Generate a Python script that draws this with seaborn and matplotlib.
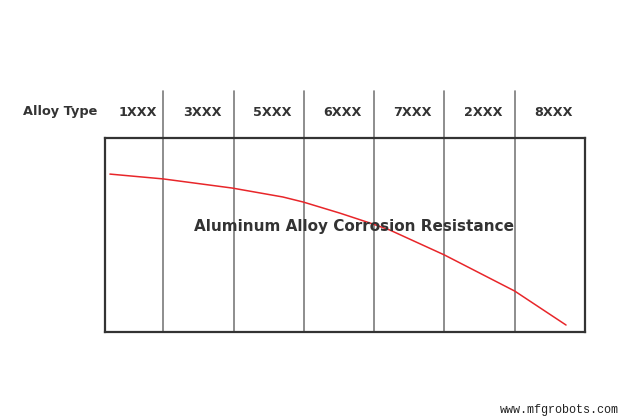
import matplotlib
matplotlib.use("Agg")
import matplotlib.pyplot as plt
import seaborn as sns
import pandas as pd

# ---- data ----
alloy_types = ["1XXX", "3XXX", "5XXX", "6XXX", "7XXX", "2XXX", "8XXX"]
curve_x = [0.24, 1.0, 1.98, 2.70, 2.99, 3.51, 3.98, 4.22, 5.0, 6.0, 6.73]
curve_resistance = [81.4, 78.9, 74.2, 69.6, 67.0, 61.3, 55.7, 52.6, 39.7, 21.1, 3.6]
row_label = "Alloy Type"
title = "Aluminum Alloy Corrosion Resistance"
watermark = "www.mfgrobots.com"

sns.set_theme(style="white")
plt.rcParams["font.family"] = ["DejaVu Sans"]

fig = plt.figure(figsize=(6.3, 4.2), dpi=100)
ax = fig.add_axes([105 / 630, 88 / 420, 480 / 630, 194 / 420])

df = pd.DataFrame({"x": curve_x, "r": curve_resistance})
sns.lineplot(data=df, x="x", y="r", ax=ax, color="#e8262a", linewidth=1.1)

x0 = 0.17
ax.set_xlim(x0, 7)
ax.set_ylim(0, 100)
ax.set_xticks([])
ax.set_yticks([])
ax.set_xlabel("")
ax.set_ylabel("")
for s in ax.spines.values():
    s.set_color("#333333")
    s.set_linewidth(1.6)
    s.set_visible(True)

top_frac = (332 - 91) / 194
for b in range(1, len(alloy_types)):
    ax.axvline(b, ymin=0, ymax=top_frac, color="#7a7a7a", linewidth=1.2, clip_on=False, zorder=1)

label_y = 1 + (138 - 112) / 194
for i, name in enumerate(alloy_types):
    left = x0 if i == 0 else i
    cx = (left + i + 1) / 2 + 0.05
    ax.text(cx, label_y, name, transform=ax.get_xaxis_transform(), ha="center", va="center",
            fontsize=9.2, fontweight="bold", color="#333333")

fig.text(60 / 630, 1 - 112 / 420, row_label, ha="center", va="center",
         fontsize=9.3, fontweight="bold", color="#333333")

ax.text(354 / 630, 1 - 226 / 420, title, transform=fig.transFigure, ha="center", va="center",
        fontsize=11, fontweight="bold", color="#333333")

fig.text(559 / 630, 1 - 410 / 420, watermark, ha="center", va="center",
         fontsize=8.5, family="Liberation Mono", color="#222222")

fig.savefig("out.png", dpi=100)
